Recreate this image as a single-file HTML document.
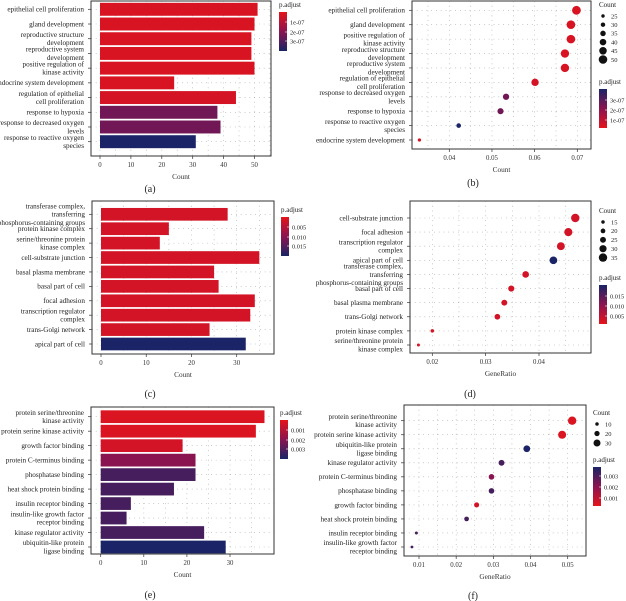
<!DOCTYPE html>
<html><head><meta charset="utf-8"><style>
html,body{margin:0;padding:0;background:#fff;}
svg{display:block;font-family:"Liberation Serif",serif;}
</style></head><body>
<svg id="fig" width="626" height="601" viewBox="0 0 626 601" xmlns="http://www.w3.org/2000/svg">
<defs>
<linearGradient id="gRedTop" x1="0" y1="0" x2="0" y2="1"><stop offset="0" stop-color="#e4141c"/><stop offset="0.5" stop-color="#8a1450"/><stop offset="1" stop-color="#1a2466"/></linearGradient>
<linearGradient id="gBlueTop" x1="0" y1="0" x2="0" y2="1"><stop offset="0" stop-color="#1a2466"/><stop offset="0.5" stop-color="#8a1450"/><stop offset="1" stop-color="#e4141c"/></linearGradient>
</defs>
</svg>
<script>
// ---- Panel (a) data ----
const aTerms = ["epithelial cell proliferation","gland development","reproductive structure\ndevelopment","reproductive system\ndevelopment","positive regulation of\nkinase activity","endocrine system development","regulation of epithelial\ncell proliferation","response to hypoxia","response to decreased oxygen\nlevels","response to reactive oxygen\nspecies"];
const aCounts = [51,50,49,49,50,24,44,38,39,31];
const aPadj = [0.2,0.2,0.2,0.2,0.2,0.2,0.3,2.0,2.0,3.3];
const aTicks = [0,10,20,30,40,50];
const aLegend = ["1e-07","2e-07","3e-07"];
// ---- Panel (b) data ----
const bTerms = ["epithelial cell proliferation","gland development","positive regulation of\nkinase activity","reproductive structure\ndevelopment","reproductive system\ndevelopment","regulation of epithelial\ncell proliferation","response to decreased oxygen\nlevels","response to hypoxia","response to reactive oxygen\nspecies","endocrine system development"];
const bRatio = [0.0698,0.0685,0.0685,0.0671,0.0671,0.0601,0.0533,0.0520,0.0422,0.0330];
const bCounts = [51,50,50,49,49,44,39,38,31,24];
const bPadj = [0.2,0.2,0.2,0.2,0.2,0.3,2.0,2.0,3.3,0.4];
const bTicks = [0.04,0.05,0.06,0.07];
const bSizeLegend = [25,30,35,40,45,50];
const bLegend = ["3e-07","2e-07","1e-07"];
// ---- Panel (c) data ----
const cTerms = ["transferase complex,\ntransferring\nphosphorus-containing groups","protein kinase complex","serine/threonine protein\nkinase complex","cell-substrate junction","basal plasma membrane","basal part of cell","focal adhesion","transcription regulator\ncomplex","trans-Golgi network","apical part of cell"];
const cCounts = [28,15,13,35,25,26,34,33,24,32];
const cPadj = [0.1,0.1,0.1,0.1,0.1,0.1,0.1,0.1,0.1,1.0];
const cTicks = [0,10,20,30];
const cLegend = ["0.005","0.010","0.015"];
// ---- Panel (d) data ----
const dTerms = ["cell-substrate junction","focal adhesion","transcription regulator\ncomplex","apical part of cell","transferase complex,\ntransferring\nphosphorus-containing groups","basal part of cell","basal plasma membrane","trans-Golgi network","protein kinase complex","serine/threonine protein\nkinase complex"];
const dRatio = [0.0468,0.0455,0.0441,0.0427,0.0375,0.0348,0.0335,0.0322,0.0200,0.0174];
const dCounts = [35,34,33,32,28,26,25,24,15,13];
const dPadj = [0.1,0.1,0.1,1.0,0.1,0.1,0.1,0.1,0.1,0.1];
const dTicks = [0.02,0.03,0.04];
const dSizeLegend = [15,20,25,30,35];
const dLegend = ["0.015","0.010","0.005"];
// ---- Panel (e) data ----
const eTerms = ["protein serine/threonine\nkinase activity","protein serine kinase activity","growth factor binding","protein C-terminus binding","phosphatase binding","heat shock protein binding","insulin receptor binding","insulin-like growth factor\nreceptor binding","kinase regulator activity","ubiquitin-like protein\nligase binding"];
const eCounts = [38,36,19,22,22,17,7,6,24,29];
const ePadj = [0.05,0.05,0.1,0.5,0.8,0.8,0.8,0.8,0.8,1.0];
const eTicks = [0,10,20,30];
const eLegend = ["0.001","0.002","0.003"];
// ---- Panel (f) data ----
const fTerms = ["protein serine/threonine\nkinase activity","protein serine kinase activity","ubiquitin-like protein\nligase binding","kinase regulator activity","protein C-terminus binding","phosphatase binding","growth factor binding","heat shock protein binding","insulin receptor binding","insulin-like growth factor\nreceptor binding"];
const fRatio = [0.0512,0.0485,0.0390,0.0322,0.0295,0.0295,0.0255,0.0228,0.0093,0.0081];
const fCounts = [38,36,29,24,22,22,19,17,7,6];
const fPadj = [0.05,0.05,1.0,0.8,0.5,0.8,0.1,0.8,0.8,0.8];
const fTicks = [0.01,0.02,0.03,0.04,0.05];
const fSizeLegend = [10,20,30];
const fLegend = ["0.003","0.002","0.001"];

const NS="http://www.w3.org/2000/svg";
const svg=document.getElementById('fig');
function mk(tag,attrs,parent){const e=document.createElementNS(NS,tag);for(const k in attrs)e.setAttribute(k,attrs[k]);(parent||svg).appendChild(e);return e;}
function colorFor(t){
  t=Math.max(0,Math.min(1,t));
  const A=[228,20,28],B=[138,20,80],C=[26,36,102];
  let c;
  if(t<0.5){const u=t/0.5;c=A.map((v,i)=>Math.round(v+(B[i]-v)*u));}
  else{const u=(t-0.5)/0.5;c=B.map((v,i)=>Math.round(v+(C[i]-v)*u));}
  return `rgb(${c[0]},${c[1]},${c[2]})`;
}
function textLines(g,str,x,yc,anchor,size){
  const lines=str.split("\n");const lh=size*1.15;
  const y0=yc-(lines.length-1)*lh/2;
  lines.forEach((l,i)=>{const t=mk('text',{x:x,y:y0+i*lh+size*0.33,'text-anchor':anchor,'font-size':size,fill:'#222'},g);t.textContent=l;});
}
function panel(cfg){
  const g=mk('g',{});
  
  
  const {x0,x1,y0,y1,dmin,dmax,rowTop,rowBot}=cfg;
  const sx=v=>cfg.px0+(v-dmin)*(cfg.px1-cfg.px0)/(dmax-dmin);
  const n=cfg.terms.length;
  const sy=i=>rowTop+i*(rowBot-rowTop)/(n-1);
  mk('rect',{x:x0,y:y0,width:x1-x0,height:y1-y0,fill:'#fff'},g);
  // grid
  const step=cfg.ticks[1]-cfg.ticks[0];
  for(let v=cfg.ticks[0]-step;v<=cfg.ticks[cfg.ticks.length-1]+step;v+=step/2){
    const X=sx(v); if(X<=x0+1||X>=x1-1)continue;
    mk('line',{x1:X,y1:y0,x2:X,y2:y1,stroke:'#999','stroke-width':0.6,'stroke-dasharray':'0.8 4'},g);
  }
  for(let i=0;i<n;i++){
    mk('line',{x1:x0,y1:sy(i),x2:x1,y2:sy(i),stroke:'#999','stroke-width':0.6,'stroke-dasharray':'0.8 4'},g);
  }
  const gap=(rowBot-rowTop)/(n-1);
  for(let i=0;i<n;i++){
    const c=colorFor(cfg.padj[i]/cfg.pmax);
    if(cfg.type==='bar'){
      const r=mk('rect',{x:sx(0),y:sy(i)-gap*0.44,width:sx(cfg.values[i])-sx(0),height:gap*0.88,fill:c},g);
      
      
    }else{
      const rr=cfg.rmin+(cfg.counts[i]-cfg.cmin)*(cfg.rmax-cfg.rmin)/(cfg.cmax-cfg.cmin);
      const p=mk('circle',{cx:sx(cfg.values[i]),cy:sy(i),r:Math.max(1.2,rr),fill:c},g);
      
      
    }
    mk('line',{x1:x0-3,y1:sy(i),x2:x0,y2:sy(i),stroke:'#333','stroke-width':0.7},g);
    textLines(g,cfg.terms[i],x0-7,sy(i),'end',7.2);
  }
  mk('rect',{x:x0,y:y0,width:x1-x0,height:y1-y0,fill:'none',stroke:'#333','stroke-width':1},g);
  cfg.ticks.forEach(v=>{
    const X=sx(v);
    mk('line',{x1:X,y1:y1,x2:X,y2:y1+3,stroke:'#333','stroke-width':0.7},g);
    const t=mk('text',{x:X,y:y1+11,'text-anchor':'middle','font-size':6.8,fill:'#333'},g);t.textContent=String(v);
  });
  const xt=mk('text',{x:(x0+x1)/2,y:y1+23,'text-anchor':'middle','font-size':7.3,fill:'#333'},g);xt.textContent=cfg.xlabel;
  
  const pl=mk('text',{x:cfg.panelX,y:cfg.panelY,'text-anchor':'middle','font-size':10,fill:'#222'},g);pl.textContent=cfg.panelLabel;
  
  // legend
  let ly=cfg.legY;
  const lx=cfg.legX;
  if(cfg.sizeLegend){
    const tt=mk('text',{x:lx,y:ly,'font-size':7,fill:'#222'},g);tt.textContent='Count';
    cfg.sizeLegend.forEach((s,k)=>{
      const yy=ly+9+k*cfg.sizeStep;
      const rr=cfg.rmin+(s-cfg.cmin)*(cfg.rmax-cfg.rmin)/(cfg.cmax-cfg.cmin);
      mk('circle',{cx:lx+4,cy:yy,r:Math.max(1.2,rr),fill:'#111'},g);
      const lt=mk('text',{x:lx+12,y:yy+2.3,'font-size':6.5,fill:'#222'},g);lt.textContent=s;
    });
    ly=cfg.pLegY;
  }
  const pt=mk('text',{x:lx,y:ly,'font-size':7,fill:'#222'},g);pt.textContent='p.adjust';
  const bar=mk('rect',{x:lx,y:ly+5,width:8,height:39,fill:cfg.sizeLegend?'url(#gBlueTop)':'url(#gRedTop)'},g);
  
  cfg.legend.forEach((s,k)=>{
    const yy=ly+5+cfg.legOff[k];
    mk('line',{x1:lx+6,y1:yy,x2:lx+8,y2:yy,stroke:'#fff','stroke-width':0.6},g);
    const lt=mk('text',{x:lx+11,y:yy+2.3,'font-size':6.3,fill:'#222'},g);lt.textContent=s;
  });
}
panel({name:'panel-a-bar-chart',type:'bar',terms:aTerms,values:aCounts,padj:aPadj,pmax:3.3,ticks:aTicks,legend:aLegend,legOff:[10,20,29],
  x0:91,x1:271,y0:1,y1:156,dmin:0,dmax:50,px0:100,px1:254.5,rowTop:9.3,rowBot:141.7,xlabel:'Count',panelLabel:'(a)',panelX:150,panelY:192,legX:279,legY:7});
panel({name:'panel-b-dot-plot',type:'dot',terms:bTerms,values:bRatio,counts:bCounts,padj:bPadj,pmax:3.3,ticks:bTicks,legend:bLegend,legOff:[11,21,31],
  x0:412,x1:591,y0:1,y1:149,dmin:0.04,dmax:0.07,px0:449.3,px1:577.3,rowTop:10.3,rowBot:140,xlabel:'Count',panelLabel:'(b)',panelX:473,panelY:186,
  legX:599,legY:7,sizeLegend:bSizeLegend,sizeStep:8.7,cmin:24,cmax:51,rmin:1.6,rmax:4.4,pLegY:84});
panel({name:'panel-c-bar-chart',type:'bar',terms:cTerms,values:cCounts,padj:cPadj,pmax:1,ticks:cTicks,legend:cLegend,legOff:[10,20,29],
  x0:92,x1:274,y0:201,y1:354,dmin:0,dmax:30,px0:101,px1:236.7,rowTop:214.3,rowBot:344,xlabel:'Count',panelLabel:'(c)',panelX:150,panelY:397,legX:281,legY:212});
panel({name:'panel-d-dot-plot',type:'dot',terms:dTerms,values:dRatio,counts:dCounts,padj:dPadj,pmax:1,ticks:dTicks,legend:dLegend,legOff:[11,21,31],
  x0:410,x1:591,y0:201,y1:353,dmin:0.02,dmax:0.04,px0:432.3,px1:539,rowTop:218,rowBot:345,xlabel:'GeneRatio',panelLabel:'(d)',panelX:470,panelY:397,
  legX:599,legY:213,sizeLegend:dSizeLegend,sizeStep:8.9,cmin:13,cmax:35,rmin:1.5,rmax:4.2,pLegY:280});
panel({name:'panel-e-bar-chart',type:'bar',terms:eTerms,values:eCounts,padj:ePadj,pmax:1,ticks:eTicks,legend:eLegend,legOff:[10,20,29],
  x0:91,x1:274,y0:407,y1:554,dmin:0,dmax:30,px0:100.7,px1:230,rowTop:416.7,rowBot:547,xlabel:'Count',panelLabel:'(e)',panelX:150,panelY:598,legX:280,legY:415});
panel({name:'panel-f-dot-plot',type:'dot',terms:fTerms,values:fRatio,counts:fCounts,padj:fPadj,pmax:1,ticks:fTicks,legend:fLegend,legOff:[9,20,31],
  x0:404,x1:586,y0:405,y1:556,dmin:0.01,dmax:0.05,px0:419,px1:567.7,rowTop:420.7,rowBot:547,xlabel:'GeneRatio',panelLabel:'(f)',panelX:473,panelY:599,
  legX:593,legY:415,sizeLegend:fSizeLegend,sizeStep:9.5,cmin:6,cmax:38,rmin:1.4,rmax:4.2,pLegY:462});
</script>
</body></html>
